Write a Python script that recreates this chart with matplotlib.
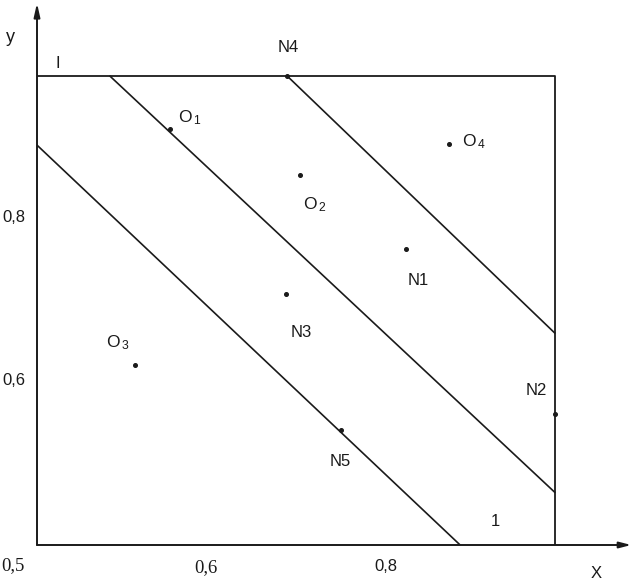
import matplotlib
matplotlib.use("Agg")
import matplotlib.pyplot as plt

# region (box) and the three parallel boundary lines
box_x = [0.413, 0.988]
box_y = [0.395, 0.972]
line1_x = [0.413, 0.883]
line1_y = [0.887, 0.395]
line2_x = [0.494, 0.988]
line2_y = [0.972, 0.460]
line3_x = [0.691, 0.988]
line3_y = [0.972, 0.656]

# labelled points
pt_names = ["O_1", "O_2", "O_3", "O_4", "N1", "N2", "N3", "N4", "N5"]
pt_x = [0.561, 0.705, 0.522, 0.871, 0.823, 0.988, 0.689, 0.691, 0.751]
pt_y = [0.907, 0.851, 0.617, 0.889, 0.759, 0.556, 0.704, 0.972, 0.537]
# label offsets in pixels (dx, dy)
pt_off = [(8, 7), (3, -35), (-29, 17), (13, -3), (12, -31), (-18, 24),
          (16, -39), (1, 29), (-1, -32)]

xticks = [0.6, 0.8]
xtick_labels = ["0,6", "0,8"]
yticks = [0.6, 0.8]
ytick_labels = ["0,6", "0,8"]

W, H = 637, 582
fig = plt.figure(figsize=(W / 100, H / 100), dpi=100)
ax = fig.add_axes([37 / W, 37 / H, 600 / W, 545 / H])
x0, x1 = 0.4128, 1.0794
y0, y1 = 0.3951, 1.0658
ax.set_xlim(x0, x1)
ax.set_ylim(y0, y1)
for s in ax.spines.values():
    s.set_visible(False)

c = "#1a1a1a"
sans = "Liberation Sans"
serif = "Liberation Serif"

# axes with arrows
ax.annotate("", xy=(1.073, y0), xytext=(x0, y0),
            arrowprops=dict(arrowstyle="-|>,head_length=0.7,head_width=0.18",
                            lw=1.4, color=c, shrinkA=0, shrinkB=0),
            annotation_clip=False)
ax.annotate("", xy=(x0, 1.062), xytext=(x0, y0),
            arrowprops=dict(arrowstyle="-|>,head_length=0.8,head_width=0.18",
                            lw=1.4, color=c, shrinkA=0, shrinkB=0),
            annotation_clip=False)

# box top and right side
ax.plot([box_x[0], box_x[1], box_x[1]], [box_y[1], box_y[1], box_y[0]],
        color=c, lw=1.3, solid_capstyle="butt")

for lx, ly in [(line1_x, line1_y), (line2_x, line2_y), (line3_x, line3_y)]:
    ax.plot(lx, ly, color=c, lw=1.2)

ax.plot(pt_x, pt_y, "o", color=c, ms=2.6, clip_on=False)

for name, x, y, (dx, dy) in zip(pt_names, pt_x, pt_y, pt_off):
    if name.startswith("O"):
        base, sub = name.split("_")
        lab = r"$\mathregular{%s_{\,%s}}$" % (base, sub)
        ax.annotate(lab, (x, y), xytext=(dx, dy),
                    textcoords="offset pixels", ha="left", va="baseline",
                    fontsize=12.5, family=sans, color=c)
    else:
        ax.annotate(name, (x, y), xytext=(dx, dy), textcoords="offset pixels",
                    ha="center", va="center", fontsize=12, family=sans, color=c)

ax.set_xticks(xticks)
ax.set_xticklabels(xtick_labels, family=serif, fontsize=13.5, color=c)
ax.get_xticklabels()[1].set_family(sans)
ax.get_xticklabels()[1].set_fontsize(12)
ax.set_yticks(yticks)
ax.set_yticklabels(ytick_labels, family=sans, fontsize=12, color=c)
ax.tick_params(axis="x", length=0, pad=10)
ax.tick_params(axis="y", length=0, pad=8.5)

fig.text(13 / W, 1 - 566 / H, "0,5", ha="center", va="center",
         family=serif, fontsize=13.5, color=c)
fig.text(10 / W, 1 - 37 / H, "y", ha="center", va="center",
         family=sans, fontsize=13, color=c)
fig.text(596 / W, 1 - 574 / H, "X", ha="center", va="center",
         family=sans, fontsize=12, color=c)
fig.text(58 / W, 1 - 64 / H, "I", ha="center", va="center",
         family=sans, fontsize=12, color=c)
fig.text(495 / W, 1 - 521 / H, "1", ha="center", va="center",
         family=sans, fontsize=12, color=c)

fig.savefig("out.png", dpi=100)
